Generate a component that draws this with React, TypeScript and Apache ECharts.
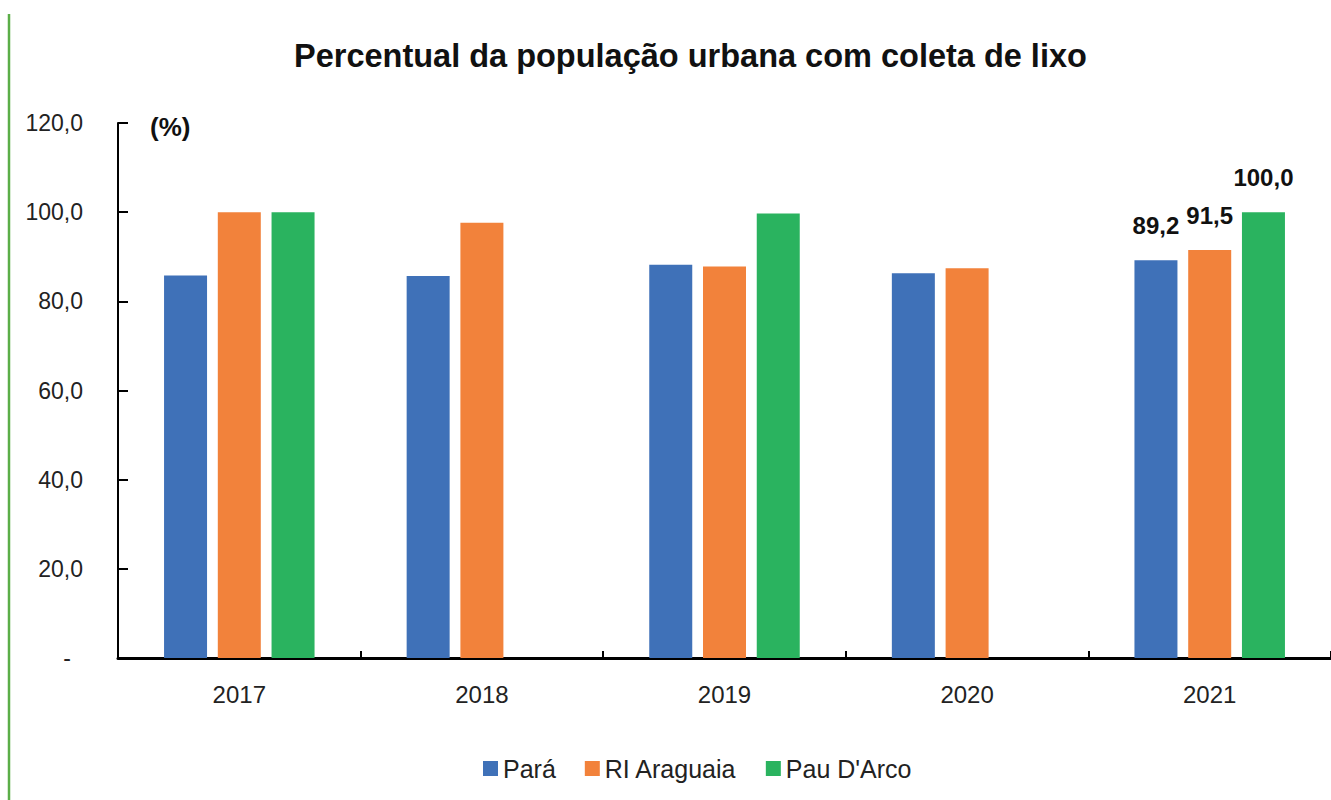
import React, { useEffect, useRef } from "react";
import * as echarts from "echarts";

const years = ["2017", "2018", "2019", "2020", "2021"];
const seriesNames = ["Pará", "RI Araguaia", "Pau D'Arco"];
const para = [85.8, 85.7, 88.2, 86.3, 89.2];
const riAraguaia = [100.0, 97.6, 87.8, 87.4, 91.5];
const pauDArco: (number | null)[] = [100.0, null, 99.7, null, 100.0];
const colors = ["#3F71B8", "#F2823B", "#2AB35F"];
const labeledYear = "2021";

const FONT = "'Liberation Sans', Arial, sans-serif";

function fmt(v: number) {
  return v.toFixed(1).replace(".", ",");
}

export default function App() {
  const ref = useRef<HTMLDivElement>(null);
  useEffect(() => {
    if (!ref.current) return;
    const chart = echarts.init(ref.current, null, { renderer: "svg" });
    const mk = (name: string, vals: (number | null)[], color: string) => ({
      name,
      type: "bar",
      barWidth: 43,
      barGap: "25%",
      itemStyle: { color },
      data: vals.map((v, i) => ({
        value: v,
        label: {
          show: years[i] === labeledYear && v != null,
          position: "top",
          distance: 23,
          fontSize: 24,
          fontWeight: "bold",
          fontFamily: FONT,
          color: "#111",
          formatter: (p: any) => fmt(p.value),
        },
      })),
    });
    chart.setOption({
      animation: false,
      backgroundColor: "#fff",
      title: {
        text: "Percentual da população urbana com coleta de lixo",
        left: 289,
        top: 34,
        textStyle: { fontSize: 32.5, fontWeight: "bold", fontFamily: FONT, color: "#111" },
      },
      legend: {
        data: seriesNames,
        left: 478,
        top: 751,
        icon: "rect",
        itemWidth: 15,
        itemHeight: 15,
        itemGap: 29,
        textStyle: { fontSize: 25, fontFamily: FONT, color: "#222" },
      },
      grid: { left: 118, top: 123, right: -6, bottom: 142 },
      xAxis: {
        type: "category",
        data: years,
        axisLine: { lineStyle: { color: "#000", width: 3 } },
        axisTick: { show: true, inside: true, length: 7, lineStyle: { color: "#000", width: 2 } },
        axisLabel: { fontSize: 24, fontFamily: FONT, color: "#222", margin: 24 },
      },
      yAxis: {
        type: "value",
        min: 0,
        max: 120,
        interval: 20,
        splitLine: { show: false },
        axisLine: { show: true, lineStyle: { color: "#000", width: 2 } },
        axisTick: { show: true, inside: true, length: 10, lineStyle: { color: "#000", width: 2 } },
        axisLabel: {
          fontSize: 23,
          fontFamily: FONT,
          color: "#222",
          margin: 35,
          formatter: (v: number) => (v === 0 ? "{z|-}" : fmt(v)),
          rich: { z: { fontSize: 23, fontFamily: FONT, color: "#222", padding: [0, 12, 0, 0] } },
        },
      },
      graphic: [
        {
          type: "line",
          shape: { x1: 9, y1: 14, x2: 9, y2: 800 },
          style: { stroke: "#5BAE48", lineWidth: 2.5 },
        },
        {
          type: "text",
          left: 150,
          top: 114,
          style: { text: "(%)", fontSize: 26, fontWeight: "bold", fontFamily: FONT, fill: "#111" },
        },
      ],
      series: [
        mk(seriesNames[0], para, colors[0]),
        mk(seriesNames[1], riAraguaia, colors[1]),
        mk(seriesNames[2], pauDArco, colors[2]),
      ],
    });
    return () => chart.dispose();
  }, []);
  return (
    <div
      ref={ref}
      style={{ position: "fixed", left: 0, top: 0, width: 1331, height: 800, background: "#fff" }}
    />
  );
}
